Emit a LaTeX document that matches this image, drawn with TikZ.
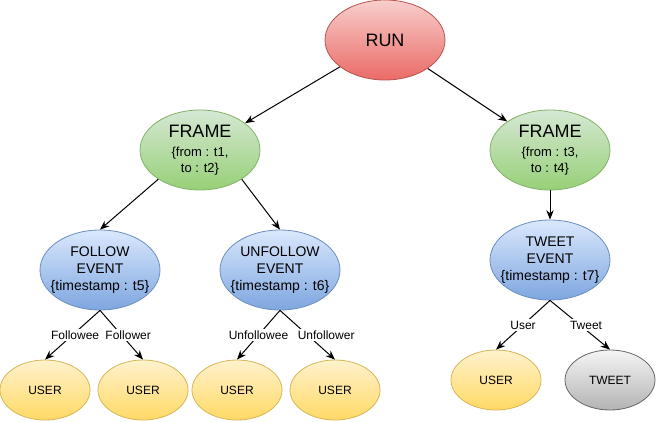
\documentclass[tikz,border=0pt]{standalone}
\usepackage{fontspec}
\setmainfont{Liberation Sans}
\usetikzlibrary{arrows.meta,shapes.geometric}
\definecolor{runtop}{HTML}{F8CECC}
\definecolor{runbot}{HTML}{EA6B66}
\definecolor{runline}{HTML}{B85450}
\definecolor{frametop}{HTML}{D5E8D4}
\definecolor{framebot}{HTML}{97D077}
\definecolor{frameline}{HTML}{82B366}
\definecolor{eventtop}{HTML}{DAE8FC}
\definecolor{eventbot}{HTML}{7EA6E0}
\definecolor{eventline}{HTML}{6C8EBF}
\definecolor{usertop}{HTML}{FFF2CC}
\definecolor{userbot}{HTML}{FFD966}
\definecolor{userline}{HTML}{D6B656}
\definecolor{tweettop}{HTML}{F5F5F5}
\definecolor{tweetbot}{HTML}{B3B3B3}
\definecolor{tweetline}{HTML}{666666}
\newcommand{\smallline}{\fontsize{9.75}{12.75}\selectfont}

\begin{document}
\begin{tikzpicture}[x=0.75pt,y=-0.75pt,>={Stealth[length=7pt,width=5.5pt]},
  blob/.style={ellipse,inner xsep=-8pt,inner ysep=-3pt,line width=0.6pt,align=center},
  runnode/.style={blob,draw=runline,top color=runtop,bottom color=runbot,
    minimum width=90pt,minimum height=60pt,font=\fontsize{13.5}{16}\selectfont},
  framenode/.style={blob,draw=frameline,top color=frametop,bottom color=framebot,
    minimum width=90pt,minimum height=60pt,font=\fontsize{13.5}{16}\selectfont},
  eventnode/.style={blob,draw=eventline,top color=eventtop,bottom color=eventbot,
    minimum width=90pt,minimum height=60pt,font=\fontsize{10.5}{13}\selectfont},
  usernode/.style={blob,draw=userline,top color=usertop,bottom color=userbot,
    minimum width=67.5pt,minimum height=45pt,font=\fontsize{9}{11}\selectfont},
  tweetnode/.style={blob,draw=tweetline,top color=tweettop,bottom color=tweetbot,
    minimum width=67.5pt,minimum height=45pt,font=\fontsize{9}{11}\selectfont},
  link/.style={->,line width=0.75pt},
  role/.style={fill=white,inner sep=1pt,font=\fontsize{9}{11}\selectfont}]
  \useasboundingbox (0,0) rectangle (656,421);
  \node[runnode] (run) at (385,40) {RUN};
  \node[framenode] (frameA) at (200,150)
    {FRAME\\[-1.5pt]{\smallline\{from : t1,}\\[-4pt]{\smallline to : t2\}}};
  \node[framenode] (frameB) at (550,150)
    {FRAME\\[-1.5pt]{\smallline\{from : t3,}\\[-4pt]{\smallline to : t4\}}};
  \node[eventnode] (follow) at (100,270) {FOLLOW\\EVENT\\\{timestamp : t5\}};
  \node[eventnode] (unfollow) at (280,270) {UNFOLLOW\\EVENT\\\{timestamp : t6\}};
  \node[eventnode] (tweetev) at (550,260) {TWEET\\EVENT\\\{timestamp : t7\}};
  \node[usernode] (userA) at (45,390) {USER};
  \node[usernode] (userB) at (143,390) {USER};
  \node[usernode] (userC) at (237,390) {USER};
  \node[usernode] (userD) at (335,390) {USER};
  \node[usernode] (userE) at (496,380) {USER};
  \node[tweetnode] (tweet) at (610,380) {TWEET};
  \draw[link] (run) -- (frameA);
  \draw[link] (run) -- (frameB);
  \draw[link] (frameA.215) -- (follow.north);
  \draw[link] (frameA.325) -- (unfollow.north);
  \draw[link] (frameB) -- (tweetev);
  \draw[link] (follow.south) -- node[role,xshift=2pt] {Followee} (userA.north);
  \draw[link] (follow.south) -- node[role,xshift=5pt] {Follower} (userB.north);
  \draw[link] (unfollow.south) -- node[role] {Unfollowee} (userC.north);
  \draw[link] (unfollow.south) -- node[role,xshift=14pt] {Unfollower} (userD.north);
  \draw[link] (tweetev.south) -- node[role] {User} (userE.north);
  \draw[link] (tweetev.south) -- node[role,xshift=4.5pt] {Tweet} (tweet.north);
\end{tikzpicture}
\end{document}
